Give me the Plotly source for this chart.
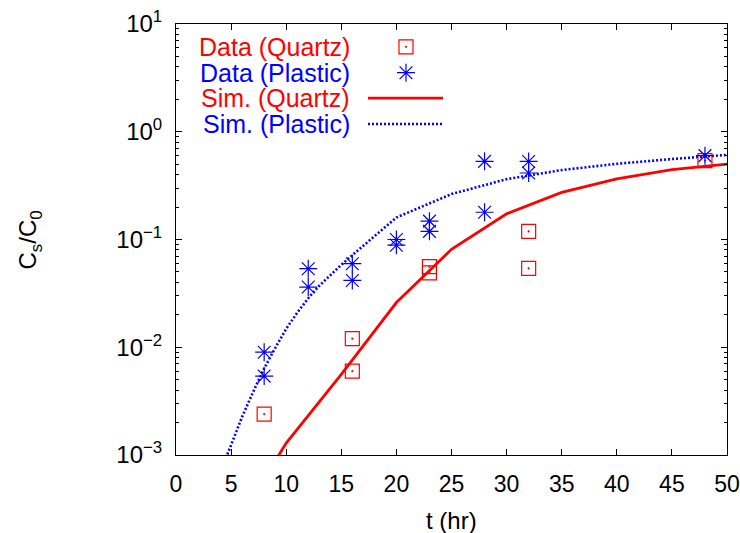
import plotly.graph_objects as go

# ---- data ----
quartz_t = [8, 16, 16, 23, 23, 32, 32, 48]
quartz_y = [0.0024, 0.012, 0.006, 0.056, 0.049, 0.119, 0.054, 0.54]

plastic_t = [8, 8, 12, 12, 16, 16, 20, 20, 23, 23, 28, 28, 32, 32, 48]
plastic_y = [0.0090, 0.0054, 0.0536, 0.0362, 0.0596, 0.0417, 0.100, 0.0885,
             0.148, 0.119, 0.531, 0.179, 0.53, 0.414, 0.60]

sim_q_t = [5, 10, 15, 20, 25, 30, 35, 40, 45, 50]
sim_q_y = [0.00019, 0.00129, 0.0056, 0.026, 0.081, 0.173, 0.274, 0.365, 0.445, 0.50]

sim_p_t = [4, 5, 6, 7, 8, 9, 10, 11, 12, 13, 14, 15, 16, 17, 18, 19, 20,
           25, 30, 35, 40, 45, 50]
sim_p_y = [0.00068, 0.00126, 0.00226, 0.00385, 0.00637, 0.00982, 0.01486,
           0.0209, 0.0285, 0.0372, 0.0468, 0.0582, 0.0716, 0.0877, 0.1076,
           0.1318, 0.160, 0.264, 0.363, 0.441, 0.504, 0.558, 0.61]

x_ticks = [0, 5, 10, 15, 20, 25, 30, 35, 40, 45, 50]
y_tickvals = [1e-3, 1e-2, 1e-1, 1e0, 1e1]
y_ticktext = ["10<sup>\u22123</sup>", "10<sup>\u22122</sup>", "10<sup>\u22121</sup>",
              "10<sup>0</sup>", "10<sup>1</sup>"]
legend_names = ["Data (Quartz)", "Data (Plastic)", "Sim. (Quartz)", "Sim. (Plastic)"]

RED = "#ff0000"
BLUE = "#0000ff"
FONT = "Liberation Sans, Arial, Helvetica, sans-serif"
DOT = "2px,2px"

minor_vals = [m * 10 ** e for e in range(-3, 1) for m in range(2, 10)]

fig = go.Figure()

fig.add_trace(go.Scatter(x=sim_q_t, y=sim_q_y, mode="lines",
                         line=dict(color=RED, width=2.8), showlegend=False))
fig.add_trace(go.Scatter(x=sim_p_t, y=sim_p_y, mode="lines",
                         line=dict(color=BLUE, width=2.6, dash=DOT), showlegend=False))
fig.add_trace(go.Scatter(x=quartz_t, y=quartz_y, mode="markers",
                         marker=dict(symbol="square-open-dot", size=14,
                                     color=RED, line=dict(color=RED, width=1.2)),
                         showlegend=False))
fig.add_trace(go.Scatter(x=plastic_t, y=plastic_y, mode="markers",
                         marker=dict(symbol="asterisk-open", size=15,
                                     color=BLUE, line=dict(color=BLUE, width=1.2)),
                         showlegend=False))

# ---- legend keys (gnuplot style: text left, key right) on an overlay axis in domain units ----
row_y = [0.947, 0.887, 0.828, 0.768]
key_x = 0.4174
fig.add_trace(go.Scatter(x=[key_x], y=[row_y[0]], xaxis="x2", yaxis="y2", mode="markers",
                         marker=dict(symbol="square-open-dot", size=14, color=RED,
                                     line=dict(color=RED, width=1.2)), showlegend=False))
fig.add_trace(go.Scatter(x=[key_x], y=[row_y[1]], xaxis="x2", yaxis="y2", mode="markers",
                         marker=dict(symbol="asterisk-open", size=15, color=BLUE,
                                     line=dict(color=BLUE, width=1.2)), showlegend=False))
fig.add_trace(go.Scatter(x=[0.3485, 0.4846], y=[row_y[2], row_y[2]], xaxis="x2", yaxis="y2",
                         mode="lines", line=dict(color=RED, width=2.8), showlegend=False))
fig.add_trace(go.Scatter(x=[0.3485, 0.4846], y=[row_y[3], row_y[3]], xaxis="x2", yaxis="y2",
                         mode="lines", line=dict(color=BLUE, width=2.6, dash=DOT),
                         showlegend=False))

annotations = []
for name, yy, col in zip(legend_names, row_y, [RED, BLUE, RED, BLUE]):
    annotations.append(dict(text=name, x=0.319, y=yy, xref="x domain", yref="y domain",
                            xanchor="right", yanchor="middle", showarrow=False,
                            font=dict(family=FONT, size=25, color=col)))

annotations.append(dict(text="C<sub>s</sub>/C<sub>0</sub>", x=-0.265, y=0.5,
                        xref="paper", yref="paper", textangle=-90,
                        xanchor="center", yanchor="middle", showarrow=False,
                        font=dict(family=FONT, size=24, color="black")))
annotations.append(dict(text="t (hr)", x=0.5, y=-0.151, xref="paper", yref="paper",
                        xanchor="center", yanchor="middle", showarrow=False,
                        font=dict(family=FONT, size=24, color="black")))

fig.update_layout(
    width=740, height=533,
    margin=dict(l=176, r=13, t=24, b=78, autoexpand=False),
    paper_bgcolor="white", plot_bgcolor="white",
    font=dict(family=FONT, size=23, color="black"),
    showlegend=False,
    annotations=annotations,
    xaxis=dict(range=[0, 50], tickvals=x_ticks, ticks="inside", ticklen=6,
               tickcolor="black", showline=True, linecolor="black", linewidth=1,
               mirror="ticks", showgrid=False, zeroline=False, automargin=False,
               ticklabeloverflow="allow",
               tickfont=dict(family=FONT, size=23), ticklabelstandoff=8),
    yaxis=dict(type="log", range=[-3, 1], tickvals=y_tickvals, ticktext=y_ticktext,
               ticks="inside", ticklen=6, tickcolor="black", showline=True,
               linecolor="black", linewidth=1, mirror="ticks", showgrid=False,
               zeroline=False, automargin=False, ticklabeloverflow="allow",
               tickfont=dict(family=FONT, size=24),
               ticklabelstandoff=8,
               minor=dict(tickvals=minor_vals, ticks="inside", ticklen=3,
                          tickcolor="black", showgrid=False)),
    xaxis2=dict(range=[0, 1], overlaying="x", visible=False, fixedrange=True),
    yaxis2=dict(range=[0, 1], overlaying="y", visible=False, fixedrange=True),
)

fig.write_html("out.html")
